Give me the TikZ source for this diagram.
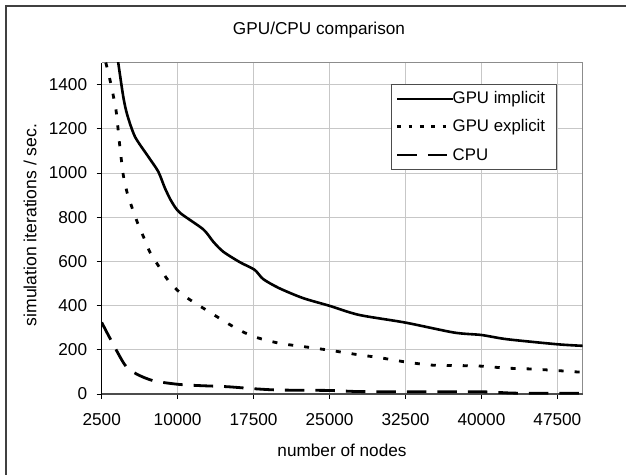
\documentclass[tikz,border=0pt]{standalone}
\usepackage{fontspec}
\setmainfont{Liberation Sans}
\usetikzlibrary{positioning}

\tikzset{
  lbl/.style={font=\fontsize{17.2}{20}\selectfont, inner sep=0pt},
  gridline/.style={draw=black!22, line width=1pt},
  frameline/.style={draw=black!45, line width=1.4pt},
  implicit/.style={line width=2.6pt, line join=round},
  explicit/.style={line width=2.8pt, dash pattern=on 5pt off 11pt},
  cpu/.style={line width=2.8pt, dash pattern=on 19.5pt off 11pt},
}

\begin{document}
\begin{tikzpicture}[x=1pt,y=1pt]
  \useasboundingbox (0,0) rectangle (626,474);
  \draw[line width=1.2pt, black!75] (6,-5) -- (6,468) -- (632,468);
  \node[lbl] (title) at (319,444) {GPU/CPU comparison};
  \node[lbl, font=\fontsize{17.6}{20}\selectfont, rotate=90] (ytitle) at (30,249) {simulation iterations / sec.};
  \node[lbl] (xtitle) at (342,24) {number of nodes};

  % plot area, x in thousands of nodes
  \begin{scope}[shift={(76.385,80)}, x=10.126pt, y=0.221pt]
    \foreach \gy in {200,400,...,1400}
      \draw[gridline] (2.5,\gy) -- (50,\gy);
    \foreach \gx in {10,17.5,...,47.5}
      \draw[gridline] (\gx,0) -- (\gx,1500);
    \draw[frameline] (2.5,1500) -- (50,1500) -- (50,0);

    \foreach \gy in {0,200,...,1400}{
      \draw[line width=1pt] ([xshift=-5pt]2.5,\gy) -- (2.5,\gy);
      \node[lbl, anchor=east] (yt-\gy) at ([xshift=-14.4pt]2.5,\gy) {\gy};
    }
    \foreach \gx/\nn in {2.5/2500,10/10000,17.5/17500,25/25000,32.5/32500,40/40000,47.5/47500}{
      \draw[line width=1pt] (\gx,0) -- ([yshift=-5pt]\gx,0);
      \node[lbl] (xt-\nn) at ([yshift=-26pt]\gx,0) {\nn};
    }
    \draw[line width=1.4pt, black!70] (2.5,0) -- (50,0);
    \draw[line width=1.4pt] (2.5,0) -- (2.5,1500);

    \begin{scope}
      \clip (2.5,0) rectangle (50,1500);
      \draw[implicit] plot[smooth, tension=0.45] coordinates {
        (4.1,1510) (4.63,1345) (5.03,1262) (5.79,1164) (7.1,1074) (8.09,1006)
        (8.75,931) (9.41,870) (10.23,820) (12.53,745) (13.52,689) (14.5,644)
        (16.16,596) (17.6,562) (18.45,520) (20.02,479) (22.38,434) (25,399)
        (27.9,358) (32.5,323) (37.3,278) (40,267) (42.5,248) (47.5,225) (50,218)};
      \draw[explicit] plot[smooth, tension=0.45] coordinates {
        (2.9,1500) (3.32,1421) (3.91,1285) (4.24,1142) (4.63,991) (5.03,908)
        (5.46,848) (6.06,772) (6.65,709) (7.27,641) (8.09,581) (9.08,513)
        (10.3,456) (11.6,415) (12.97,376) (14.4,335) (15.83,296) (17.5,260)
        (20,230) (22.5,214) (25,198) (27.5,180) (30,164) (32.5,145) (35,131)
        (37.5,129) (40,126) (42.5,117) (45,113) (47.5,106) (50,98)};
      \draw[cpu] plot[smooth, tension=0.45] coordinates {
        (2.5,324) (3.32,252) (4.8,131) (5.96,90) (7.6,60) (10,44) (12.15,38)
        (14.9,33) (17.5,24) (20,18) (25,16) (27.9,11) (32.5,10) (40,10)
        (43.2,4) (47.5,3) (50,3)};
    \end{scope}
  \end{scope}

  % legend
  \draw[line width=1pt, black!70, fill=white] (391.7,304.7) rectangle (556.7,389.7);
  \node[lbl, font=\fontsize{16.8}{20}\selectfont, anchor=west] (leg-imp) at (452.5,375) {GPU implicit};
  \node[lbl, font=\fontsize{16.8}{20}\selectfont, anchor=west] (leg-exp) at (452.5,347.3) {GPU explicit};
  \node[lbl, font=\fontsize{16.8}{20}\selectfont, anchor=west] (leg-cpu) at (452.5,319) {CPU};
  \coordinate (s-imp) at (397.3,375);
  \coordinate (s-exp) at (397.3,347.3);
  \coordinate (s-cpu) at (397.3,319);
  \draw[implicit] (s-imp) -- (leg-imp.west);
  \draw[line width=2.8pt, dash pattern=on 3.7pt off 7.6pt] (s-exp) -- (leg-exp.west);
  \draw[cpu] (s-cpu) -- (leg-cpu.west);
\end{tikzpicture}
\end{document}
